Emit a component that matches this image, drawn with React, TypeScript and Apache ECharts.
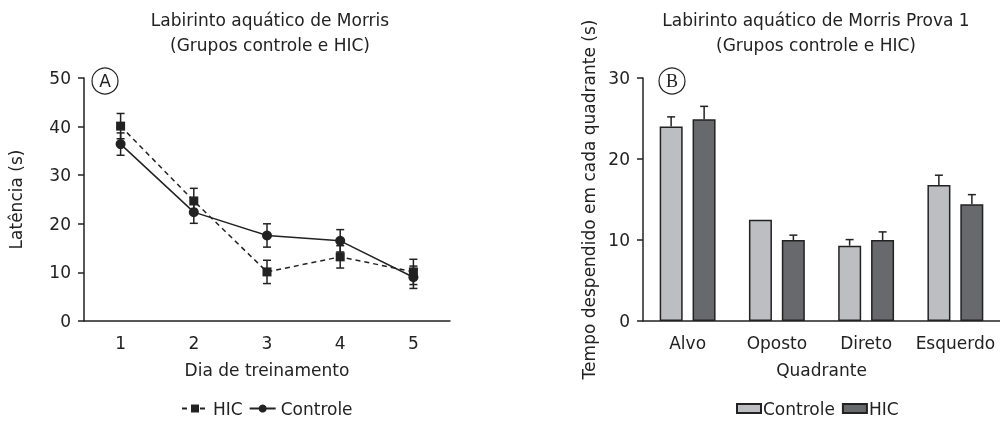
import React, { useEffect, useRef } from "react";
import * as echarts from "echarts";

const days = ["1", "2", "3", "4", "5"];
const hicLatency = [40.1, 24.7, 10.1, 13.2, 10.1];
const hicErr = [2.6, 2.6, 2.4, 2.3, 2.6];
const ctrlLatency = [36.4, 22.4, 17.6, 16.5, 9.0];
const ctrlErr = [2.3, 2.3, 2.4, 2.3, 2.3];

const quadrants = ["Alvo", "Oposto", "Direto", "Esquerdo"];
const ctrlTime = [24.0, 12.5, 9.3, 16.8];
const ctrlTimeErr = [1.2, 0, 0.75, 1.2];
const hicTime = [24.9, 10.0, 10.0, 14.4];
const hicTimeErr = [1.6, 0.6, 1.0, 1.2];

const FONT = "DejaVu Sans";
const INK = "#222";
const LIGHT = "#bdbec2";
const DARK = "#68696d";

export default function App() {
  const ref = useRef<HTMLDivElement>(null);
  useEffect(() => {
    const chart = echarts.init(ref.current!, null, { renderer: "svg" });

    const lineErrRender = (params: any, api: any) => {
      const x = api.value(0);
      const lo = api.coord([x, api.value(1)]);
      const hi = api.coord([x, api.value(2)]);
      const w = 4;
      const st = { stroke: INK, lineWidth: 1.5 };
      return {
        type: "group",
        children: [
          { type: "line", shape: { x1: lo[0], y1: lo[1], x2: hi[0], y2: hi[1] }, style: st },
          { type: "line", shape: { x1: lo[0] - w, y1: lo[1], x2: lo[0] + w, y2: lo[1] }, style: st },
          { type: "line", shape: { x1: hi[0] - w, y1: hi[1], x2: hi[0] + w, y2: hi[1] }, style: st },
        ],
      };
    };
    const barErrRender = (shift: number) => (params: any, api: any) => {
      const x = api.value(0);
      const v = api.value(1);
      const e = api.value(2);
      if (!e) return { type: "group", children: [] };
      const a = api.coord([x, v]);
      const b = api.coord([x, v + e]);
      const cx = a[0] + shift;
      const w = 4;
      const st = { stroke: INK, lineWidth: 1.5 };
      return {
        type: "group",
        children: [
          { type: "line", shape: { x1: cx, y1: a[1], x2: cx, y2: b[1] }, style: st },
          { type: "line", shape: { x1: cx - w, y1: b[1], x2: cx + w, y2: b[1] }, style: st },
        ],
      };
    };

    const axisLine = { lineStyle: { color: INK, width: 1.5 } };
    const labelStyle = { fontFamily: FONT, fontSize: 17, color: INK };
    const titleStyle = { fontFamily: FONT, fontSize: 17, fontWeight: "normal", color: INK, lineHeight: 25 };

    chart.setOption({
      animation: false,
      textStyle: { fontFamily: FONT, color: INK },
      title: [
        {
          text: "Labirinto aquático de Morris\n(Grupos controle e HIC)",
          left: 265,
          top: 2,
          textAlign: "center",
          textStyle: titleStyle,
        },
        {
          text: "Labirinto aquático de Morris Prova 1\n(Grupos controle e HIC)",
          left: 811,
          top: 2,
          textAlign: "center",
          textStyle: titleStyle,
        },
      ],
      legend: [
        {
          data: ["HIC", "Controle"],
          left: 181,
          top: 400,
          padding: 0,
          itemWidth: 26,
          itemHeight: 10,
          itemGap: 6,
          textStyle: { ...labelStyle },
        },
        {
          data: [
            { name: "Controle (B)", icon: "rect" },
            { name: "HIC (B)", icon: "rect" },
          ],
          left: 736,
          top: 400,
          padding: 0,
          itemWidth: 24,
          itemHeight: 9,
          itemGap: 7,
          formatter: (n: string) => n.replace(" (B)", ""),
          textStyle: { ...labelStyle, padding: [0, 0, 0, -3] },
        },
      ],
      grid: [
        { left: 84, top: 78, width: 366, bottom: 100 },
        { left: 643, top: 78, right: 0, bottom: 100 },
      ],
      xAxis: [
        {
          type: "category",
          gridIndex: 0,
          data: days,
          boundaryGap: true,
          axisLine,
          axisTick: { alignWithLabel: true, length: 6, lineStyle: { color: INK, width: 1.5 } },
          axisLabel: { ...labelStyle, margin: 13, interval: 0 },
          name: "Dia de treinamento",
          nameLocation: "middle",
          nameGap: 40,
          nameTextStyle: { ...labelStyle },
        },
        {
          type: "category",
          gridIndex: 1,
          data: quadrants,
          axisLine,
          axisTick: { show: false },
          axisLabel: { ...labelStyle, margin: 13, interval: 0 },
          name: "Quadrante",
          nameLocation: "middle",
          nameGap: 40,
          nameTextStyle: { ...labelStyle },
        },
      ],
      yAxis: [
        {
          type: "value",
          gridIndex: 0,
          min: 0,
          max: 50,
          interval: 10,
          axisLine: { show: true, ...axisLine },
          axisTick: { show: true, length: 6, lineStyle: { color: INK, width: 1.5 } },
          splitLine: { show: false },
          axisLabel: { ...labelStyle, margin: 13 },
          name: "Latência (s)",
          nameLocation: "middle",
          nameGap: 60,
          nameTextStyle: { ...labelStyle },
        },
        {
          type: "value",
          gridIndex: 1,
          min: 0,
          max: 30,
          interval: 10,
          axisLine: { show: true, ...axisLine },
          axisTick: { show: true, length: 6, lineStyle: { color: INK, width: 1.5 } },
          splitLine: { show: false },
          axisLabel: { ...labelStyle, margin: 13 },
          name: "Tempo despendido em cada quadrante (s)",
          nameLocation: "middle",
          nameGap: 46,
          nameTextStyle: { ...labelStyle },
        },
      ],
      series: [
        {
          name: "HIC",
          type: "line",
          xAxisIndex: 0,
          yAxisIndex: 0,
          data: hicLatency,
          symbol: "rect",
          symbolSize: 9,
          z: 3,
          itemStyle: { color: INK },
          lineStyle: { color: INK, width: 1.5, type: [5, 4] },
        },
        {
          name: "Controle",
          type: "line",
          xAxisIndex: 0,
          yAxisIndex: 0,
          data: ctrlLatency,
          symbol: "circle",
          symbolSize: 10,
          z: 4,
          itemStyle: { color: INK },
          lineStyle: { color: INK, width: 1.5 },
        },
        {
          type: "custom",
          xAxisIndex: 0,
          yAxisIndex: 0,
          renderItem: lineErrRender,
          encode: { x: 0, y: [1, 2] },
          data: hicLatency.map((v, i) => [i, v - hicErr[i], v + hicErr[i]]),
          z: 2,
        },
        {
          type: "custom",
          xAxisIndex: 0,
          yAxisIndex: 0,
          renderItem: lineErrRender,
          encode: { x: 0, y: [1, 2] },
          data: ctrlLatency.map((v, i) => [i, v - ctrlErr[i], v + ctrlErr[i]]),
          z: 2,
        },
        {
          name: "Controle (B)",
          type: "bar",
          xAxisIndex: 1,
          yAxisIndex: 1,
          data: ctrlTime,
          barWidth: 23,
          barGap: "43%",
          itemStyle: { color: LIGHT, borderColor: INK, borderWidth: 1.5 },
        },
        {
          name: "HIC (B)",
          type: "bar",
          xAxisIndex: 1,
          yAxisIndex: 1,
          data: hicTime,
          barWidth: 23,
          barGap: "43%",
          itemStyle: { color: DARK, borderColor: INK, borderWidth: 1.5 },
        },
        {
          type: "custom",
          xAxisIndex: 1,
          yAxisIndex: 1,
          renderItem: barErrRender(-16.5),
          encode: { x: 0, y: [1] },
          data: ctrlTime.map((v, i) => [i, v, ctrlTimeErr[i]]),
          z: 1,
        },
        {
          type: "custom",
          xAxisIndex: 1,
          yAxisIndex: 1,
          renderItem: barErrRender(16.5),
          encode: { x: 0, y: [1] },
          data: hicTime.map((v, i) => [i, v, hicTimeErr[i]]),
          z: 1,
        },
      ],
      graphic: [
        { type: "circle", shape: { cx: 105, cy: 81, r: 13 }, style: { fill: "none", stroke: INK, lineWidth: 1.2 } },
        { type: "text", x: 105, y: 81, style: { text: "A", fontFamily: FONT, fontSize: 17, fill: INK, align: "center", verticalAlign: "middle" } },
        { type: "circle", shape: { cx: 672, cy: 81, r: 13 }, style: { fill: "none", stroke: INK, lineWidth: 1.2 } },
        { type: "text", x: 672, y: 81, style: { text: "B", fontFamily: "Liberation Serif", fontSize: 18, fill: INK, align: "center", verticalAlign: "middle" } },
      ],
    });
    return () => chart.dispose();
  }, []);
  return <div ref={ref} style={{ width: 1000, height: 421, position: "fixed", left: 0, top: 0 }} />;
}
